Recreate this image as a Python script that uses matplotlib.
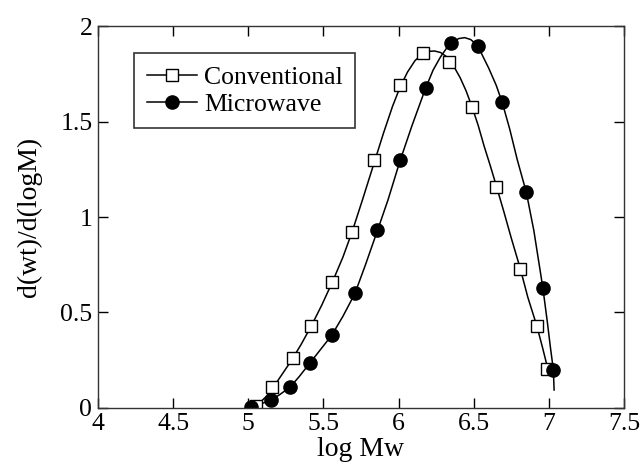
import numpy as np
import matplotlib.pyplot as plt
from matplotlib.lines import Line2D

plt.rcParams['font.family'] = ['Liberation Serif', 'DejaVu Serif']

# measured points
conv_x = [5.05, 5.16, 5.30, 5.42, 5.56, 5.69, 5.84, 6.01, 6.16, 6.335, 6.49, 6.65, 6.81, 6.92, 6.99]
conv_y = [0.01, 0.11, 0.26, 0.43, 0.66, 0.92, 1.30, 1.69, 1.86, 1.81, 1.575, 1.16, 0.73, 0.43, 0.205]
micro_x = [5.02, 5.15, 5.28, 5.41, 5.555, 5.71, 5.86, 6.01, 6.18, 6.35, 6.53, 6.69, 6.85, 6.96, 7.03]
micro_y = [0.005, 0.04, 0.11, 0.235, 0.38, 0.60, 0.93, 1.30, 1.675, 1.91, 1.895, 1.605, 1.13, 0.63, 0.20]

# fitted curves
conv_fit_x = [5.04, 5.08, 5.12, 5.16, 5.22, 5.28, 5.35, 5.42, 5.49, 5.56, 5.63, 5.69, 5.76, 5.84,
              5.90, 5.96, 6.01, 6.06, 6.11, 6.16, 6.20, 6.24, 6.28, 6.32, 6.36, 6.41, 6.45, 6.49,
              6.53, 6.57, 6.61, 6.65, 6.70, 6.75, 6.81, 6.86, 6.92, 6.96, 6.99]
conv_fit_y = [0.0, 0.03, 0.06, 0.10, 0.17, 0.24, 0.33, 0.43, 0.54, 0.66, 0.79, 0.92, 1.09, 1.29,
              1.44, 1.58, 1.68, 1.76, 1.82, 1.855, 1.868, 1.870, 1.862, 1.84, 1.80, 1.73, 1.66, 1.575,
              1.48, 1.37, 1.27, 1.165, 1.03, 0.89, 0.73, 0.58, 0.43, 0.31, 0.215]
micro_fit_x = [5.02, 5.08, 5.15, 5.21, 5.28, 5.34, 5.41, 5.48, 5.555, 5.63, 5.71, 5.78, 5.86, 5.93,
               6.01, 6.09, 6.18, 6.23, 6.28, 6.32, 6.36, 6.40, 6.44, 6.48, 6.51, 6.55, 6.60, 6.65,
               6.69, 6.74, 6.79, 6.85, 6.90, 6.93, 6.96, 6.99, 7.01, 7.03, 7.035]
micro_fit_y = [0.0, 0.02, 0.04, 0.07, 0.11, 0.165, 0.235, 0.305, 0.38, 0.48, 0.60, 0.75, 0.93, 1.09,
               1.295, 1.48, 1.675, 1.77, 1.84, 1.885, 1.915, 1.935, 1.94, 1.93, 1.91, 1.86, 1.78, 1.69,
               1.60, 1.46, 1.30, 1.13, 0.93, 0.78, 0.63, 0.45, 0.32, 0.20, 0.094]

fig = plt.figure(figsize=(6.4, 4.76), dpi=100)
ax = fig.add_axes([0.153, 0.143, 0.822, 0.802])

ax.plot(conv_fit_x, conv_fit_y, color="black", linewidth=1.1)
ax.plot(micro_fit_x, micro_fit_y, color="black", linewidth=1.1)
ax.plot(conv_x, conv_y, linestyle="none", marker="s", markersize=8.5,
        markerfacecolor="white", markeredgecolor="black", markeredgewidth=1.0)
ax.plot(micro_x, micro_y, linestyle="none", marker="o", markersize=9.5,
        markerfacecolor="black", markeredgecolor="black")

ax.set_xlim(4, 7.5)
ax.set_ylim(0, 2)
ax.set_xticks([4, 4.5, 5, 5.5, 6, 6.5, 7, 7.5])
ax.set_xticklabels(["4", "4.5", "5", "5.5", "6", "6.5", "7", "7.5"])
ax.set_yticks([0, 0.5, 1, 1.5, 2])
ax.set_yticklabels(["0", "0.5", "1", "1.5", "2"])
ax.tick_params(direction="in", length=7, width=1, top=True, right=True, labelsize=18.5, pad=4)
for s in ax.spines.values():
    s.set_linewidth(1.0)
    s.set_color("#333333")

ax.set_xlabel("log Mw", fontsize=20, labelpad=1)
ax.set_ylabel("d(wt)/d(logM)", fontsize=20, labelpad=13)

handles = [
    Line2D([], [], color="black", linewidth=1.1, marker="s", markersize=8.5,
           markerfacecolor="white", markeredgecolor="black"),
    Line2D([], [], color="black", linewidth=1.1, marker="o", markersize=9.5,
           markerfacecolor="black"),
]
leg = ax.legend(handles, ["Conventional", "Microwave"], loc="upper left",
                bbox_to_anchor=(0.068, 0.93), fontsize=18.5, frameon=True, fancybox=False,
                edgecolor="black", handlelength=1.95, handletextpad=0.28, borderpad=0.5,
                labelspacing=0.15, borderaxespad=0)
leg.get_frame().set_linewidth(1.2)

fig.savefig("out.png", dpi=100)
